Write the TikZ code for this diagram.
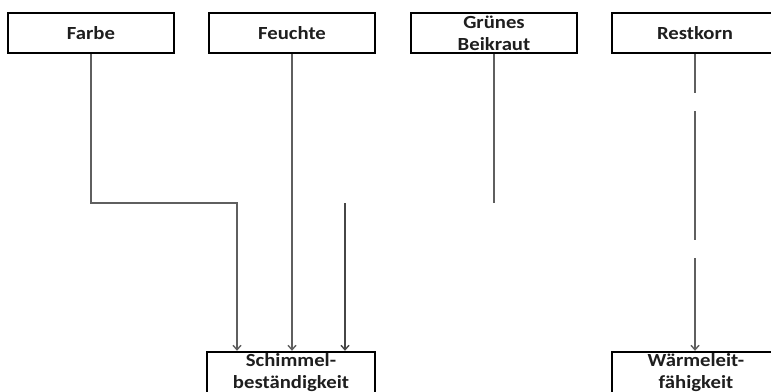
\documentclass[tikz,border=0pt]{standalone}
\usepackage{fontspec}
\setmainfont{Carlito}
\newfontfamily\lblfont[FakeStretch=1.12]{Carlito Bold}
\usetikzlibrary{arrows.meta}
\definecolor{linegray}{RGB}{95,95,95}
\definecolor{linedark}{RGB}{70,70,70}
\definecolor{txt}{RGB}{30,30,30}
\tikzset{
  box/.style={draw=black, line width=2.4pt, minimum width=166pt, minimum height=40pt,
    inner sep=0pt, align=center, text=txt, font=\lblfont\fontsize{18.5}{22}\selectfont},
  conn/.style={draw=linegray, line width=1.6pt},
  arr/.style={conn, -{Straight Barb[length=4.5pt,width=8pt,line width=1.4pt]}}
}
\begin{document}
\begin{tikzpicture}[x=1pt,y=-1pt]
\useasboundingbox (0,0) rectangle (771,391);
\clip (0,0) rectangle (771,391);
\node[box] (farbe)   at (91,33)  {Farbe};
\node[box] (feuchte) at (292,33) {Feuchte};
\node[box] (grunes)  at (494,33) {Grünes\\Beikraut};
\node[box] (rest)    at (695,33) {Restkorn};
\node[box, minimum width=168pt, minimum height=41pt] (schim) at (291,372.5) {Schimmel-\\beständigkeit};
\node[box, minimum width=168pt, minimum height=41pt] (waerme) at (696,372.5) {Wärmeleit-\\fähigkeit};
\coordinate (k1) at (237,203);
\coordinate (k2) at (345,203);
\coordinate (k3) at (494,203);
\draw[arr] (farbe.south) |- (k1) -- (k1 |- schim.north);
\draw[arr] (feuchte.south) -- (feuchte.south |- schim.north);
\draw[arr, draw=linedark] (k2) -- (k2 |- schim.north);
\draw[conn] (grunes.south) -- (k3);
\draw[arr, dash pattern=on 39pt off 18pt on 129pt off 18pt on 200pt] (rest.south) -- (rest.south |- waerme.north);
\end{tikzpicture}
\end{document}
